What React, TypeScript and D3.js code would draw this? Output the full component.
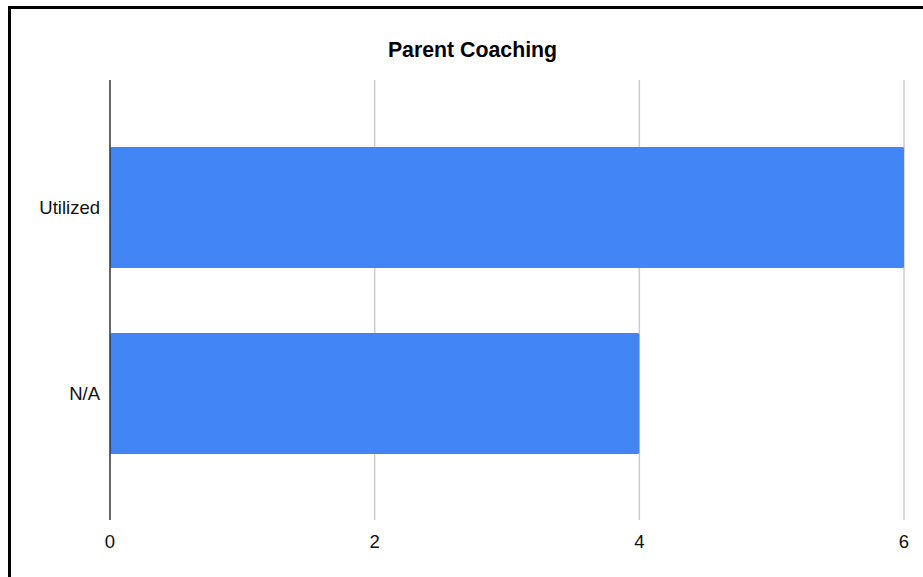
import React from "react";
import * as d3 from "d3";

const categories = ["Utilized", "N/A"];
const values = [6, 4];
const xTicks = [0, 2, 4, 6];
const title = "Parent Coaching";

export default function App() {
  const W = 923, H = 577;
  const x = d3.scaleLinear().domain([0, 6]).range([110, 904]);
  const y = d3.scaleBand<string>().domain(categories).range([114.5, 486.5]).paddingInner(0.35).paddingOuter(0.175);
  const font = "'Liberation Sans', Arial, sans-serif";
  return (
    <div style={{ position: "absolute", left: 0, top: 0 }}>
      <svg width={W} height={H} style={{ display: "block" }}>
        <rect x={0} y={0} width={W} height={H} fill="#fff" />
        <rect x={9.5} y={7.5} width={1000} height={1000} fill="#fff" stroke="#000" strokeWidth={3} />
        <text x={472.5} y={56.5} textAnchor="middle" fontFamily={font} fontWeight="bold" fontSize={21.3} fill="#000">{title}</text>
        {xTicks.map(t => t !== 0 && (
          <line key={t} x1={x(t)} x2={x(t)} y1={80} y2={520} stroke="#cccccc" strokeWidth={1.5} />
        ))}
        {categories.map((c, i) => (
          <rect key={c} x={x(0)} y={y(c)} width={x(values[i]) - x(0)} height={y.bandwidth()} fill="#4285f4" rx={1.5} />
        ))}
        <line x1={x(0)} x2={x(0)} y1={80} y2={520} stroke="#333" strokeWidth={1.5} />
        {xTicks.map(t => (
          <text key={t} x={x(t)} y={548} textAnchor="middle" fontFamily={font} fontSize={18.5} fill="#111">{t}</text>
        ))}
        {categories.map(c => (
          <text key={c} x={100} y={(y(c) as number) + y.bandwidth() / 2 + 6.5} textAnchor="end" fontFamily={font} fontSize={18.5} fill="#111">{c}</text>
        ))}
      </svg>
    </div>
  );
}
